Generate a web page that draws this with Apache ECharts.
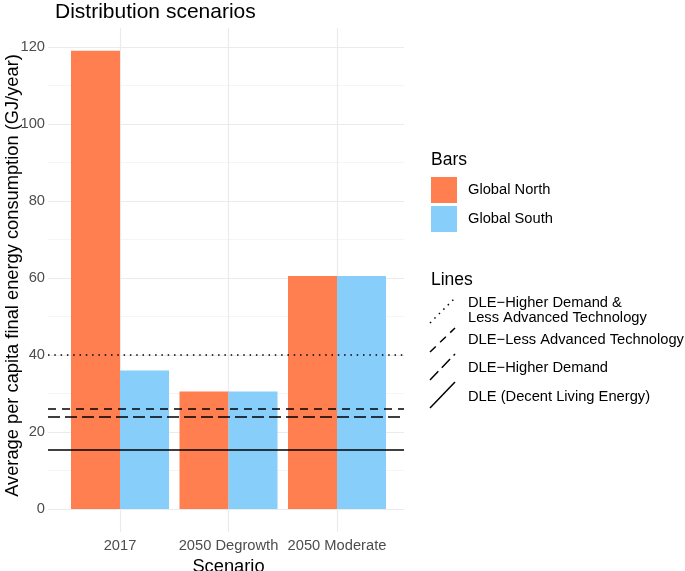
<!DOCTYPE html>
<html>
<head>
<meta charset="utf-8">
<script src="https://cdn.jsdelivr.net/npm/echarts@6/dist/echarts.min.js"></script>
<style>
  html, body { margin: 0; padding: 0; background: #fff; }
  #chart { width: 685px; height: 571px; }
</style>
</head>
<body>
<div id="chart"></div>
<script>
const categories = ['2017', '2050 Degrowth', '2050 Moderate']
const globalNorth = [119, 30.5, 60.5]
const globalSouth = [36, 30.5, 60.5]
const lineNames = [
  'DLE\u2212Higher Demand &\nLess Advanced Technology',
  'DLE\u2212Less Advanced Technology',
  'DLE\u2212Higher Demand',
  'DLE (Decent Living Energy)'
]
const lineValues = [40, 26, 24, 15.5]
const lineDashes = [[1.5, 4.8], [8, 6], [12, 5], 'solid']

const font = 'Liberation Sans, Arial, sans-serif'
const grey = '#4D4D4D'
const gridColor = '#EBEBEB'
const txt = 14.7

var myChart = echarts.init(document.getElementById('chart'))

// line keys for the "Lines" legend (ggplot draws them as diagonals)
const keyGraphics = []
const keyY = [[323, 298], [352, 328], [380, 354], [408, 382]]
const textY = [295.5, 332.5, 360.5, 389.5]
lineValues.forEach((v, i) => {
  keyGraphics.push({
    type: 'line',
    shape: { x1: 430, y1: keyY[i][0], x2: 455, y2: keyY[i][1] },
    style: { stroke: '#000', lineWidth: 1.5, lineDash: lineDashes[i] === 'solid' ? null : lineDashes[i] }
  })
  keyGraphics.push({
    type: 'text',
    left: 468,
    top: textY[i],
    style: { text: lineNames[i], font: txt + 'px ' + font, fill: '#000', lineHeight: 15 }
  })
})

const lineSeries = lineValues.map((v, i) => ({
  name: lineNames[i],
  type: 'line',
  xAxisIndex: 0,
  yAxisIndex: 0,
  data: [],
  z: 5,
  markLine: {
    silent: true,
    symbol: 'none',
    label: { show: false },
    lineStyle: { color: '#000', width: 1.5, type: lineDashes[i] },
    data: [{ yAxis: v }]
  }
}))

myChart.setOption({
  animation: false,
  title: {
    text: 'Distribution scenarios',
    left: 55,
    top: 2,
    padding: 0,
    textStyle: { fontFamily: font, fontSize: 21, fontWeight: 'normal', color: '#000' }
  },
  grid: [
    { left: 48, right: 281, top: 47, bottom: 62, outerBoundsMode: 'none' },
    { left: 120, right: 348, top: 27.75, bottom: 38.9, outerBoundsMode: 'none' }
  ],
  xAxis: [
    {
      gridIndex: 0,
      type: 'value',
      min: 0,
      max: 1,
      show: false
    },
    {
      gridIndex: 1,
      type: 'category',
      data: categories,
      boundaryGap: false,
      axisLine: { show: false },
      axisTick: { show: false },
      axisLabel: { color: grey, fontSize: txt, fontFamily: font, margin: 6, interval: 0 },
      splitLine: { show: true, lineStyle: { color: gridColor, width: 1.2 } },
      name: 'Scenario',
      nameLocation: 'middle',
      nameGap: 26,
      nameMoveOverlap: false,
      nameTextStyle: { color: '#000', fontSize: 18.3, fontFamily: font }
    }
  ],
  yAxis: [
    {
      gridIndex: 0,
      type: 'value',
      min: 0,
      max: 120,
      interval: 20,
      axisLine: { show: false },
      axisTick: { show: false },
      axisLabel: { color: grey, fontSize: txt, fontFamily: font, margin: 3 },
      splitLine: { show: true, lineStyle: { color: gridColor, width: 1.2 } },
      minorTick: { show: false, splitNumber: 2 },
      minorSplitLine: { show: true, lineStyle: { color: '#F3F3F3', width: 0.8 } },
      name: 'Average per capita final energy consumption (GJ/year)',
      nameLocation: 'middle',
      nameGap: 26,
      nameMoveOverlap: false,
      nameTextStyle: { color: '#000', fontSize: 18.3, fontFamily: font, padding: [0, 0, 0, 5] }
    },
    {
      gridIndex: 1,
      type: 'value',
      min: -6,
      max: 125,
      show: false
    }
  ],
  legend: {
    data: ['Global North', 'Global South'],
    orient: 'vertical',
    left: 431,
    top: 177,
    padding: 0,
    itemWidth: 26,
    itemHeight: 26,
    itemGap: 3,
    icon: 'rect',
    selectedMode: false,
    textStyle: { color: '#000', fontSize: txt, fontFamily: font, padding: [0, 0, 0, 6] }
  },
  graphic: [
    { type: 'text', left: 431, top: 151, style: { text: 'Bars', font: '17.5px ' + font, fill: '#000' } },
    { type: 'text', left: 431, top: 271, style: { text: 'Lines', font: '17.5px ' + font, fill: '#000' } }
  ].concat(keyGraphics),
  series: [
    {
      name: 'Global North',
      type: 'bar',
      xAxisIndex: 1,
      yAxisIndex: 1,
      data: globalNorth,
      barWidth: 49,
      barGap: '0%',
      clip: false,
      z: 2,
      itemStyle: { color: '#FF7F50' }
    },
    {
      name: 'Global South',
      type: 'bar',
      xAxisIndex: 1,
      yAxisIndex: 1,
      data: globalSouth,
      barWidth: 49,
      barGap: '0%',
      clip: false,
      z: 2,
      itemStyle: { color: '#87CEFA' }
    }
  ].concat(lineSeries)
})
</script>
</body>
</html>
